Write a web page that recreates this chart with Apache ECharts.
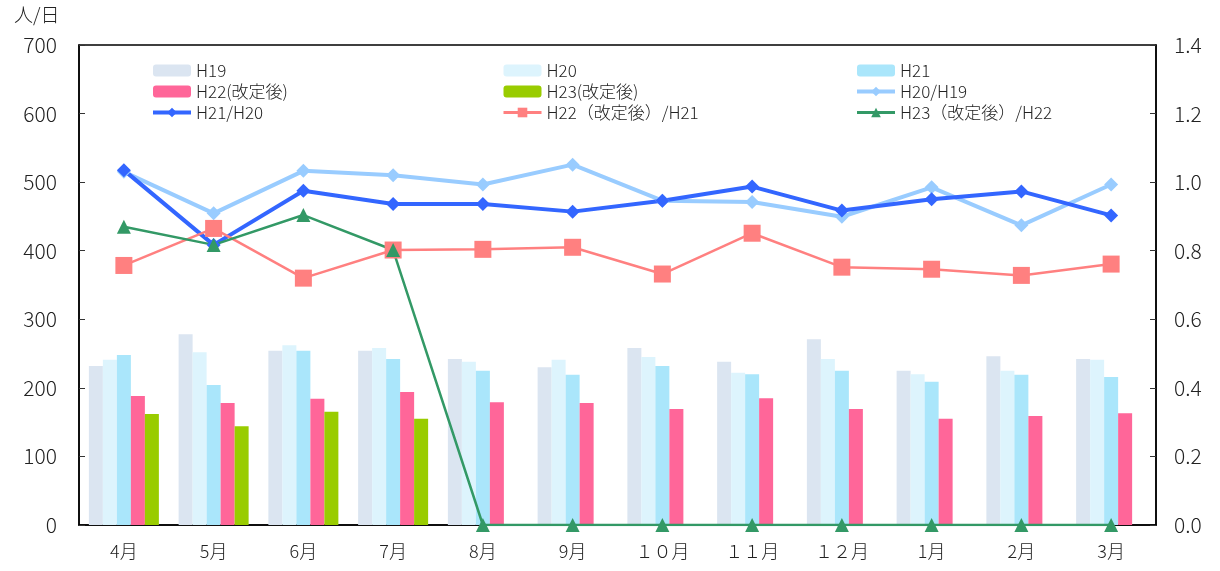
<!DOCTYPE html>
<html>
<head>
<meta charset="utf-8">
<script src="https://cdn.jsdelivr.net/npm/echarts@6/dist/echarts.min.js"></script>
<style>
html,body{margin:0;padding:0;background:#fff;}
#c{width:1220px;height:571px;}
</style>
</head>
<body>
<div id="c"></div>
<script>
const categories = ['4月','5月','6月','7月','8月','9月','１０月','１１月','１２月','1月','2月','3月'];
const h19 = [232,278,254,254,242,230,258,238,271,225,246,242];
const h20 = [241,252,262,258,238,241,245,222,242,220,225,241];
const h21 = [248,204,254,242,225,219,232,220,225,209,219,216];
const h22 = [188,178,184,194,179,178,169,185,169,155,159,163];
const h23 = [162,144,165,155,null,null,null,null,null,null,null,null];
const r20_19 = [1.030,0.909,1.033,1.020,0.993,1.051,0.946,0.942,0.899,0.985,0.874,0.993];
const r21_20 = [1.035,0.817,0.975,0.936,0.936,0.914,0.946,0.987,0.917,0.950,0.973,0.903];
const r22_21 = [0.757,0.865,0.720,0.802,0.804,0.810,0.732,0.851,0.752,0.746,0.728,0.761];
const r23_22 = [0.870,0.817,0.904,0.802,0,0,0,0,0,0,0,0];
const leftTicks = {min:0, max:700, interval:100};
const rightTicks = {min:0, max:1.4, interval:0.2};
const unitLabel = '人/日';

const FONT = '"Noto Sans CJK JP", "Noto Sans", sans-serif';
const chart = echarts.init(document.getElementById('c'));

function bar(name, data, color){
  return {name, type:'bar', data, yAxisIndex:0, barGap:'0%', barCategoryGap:'22%',
    itemStyle:{color}, emphasis:{disabled:true}};
}
function line(name, data, color, width, symbol, size){
  return {name, type:'line', data, yAxisIndex:1, symbol, symbolSize:size,
    lineStyle:{color, width}, itemStyle:{color}, z:5, emphasis:{disabled:true}};
}
const legendBase = {orient:'vertical', itemWidth:38, itemHeight:12, itemGap:4,
  textStyle:{fontFamily:FONT, fontSize:17, color:'#222', fontWeight:300}, selectedMode:false};
function li(name, w){ return w ? {name, lineStyle:{width:w}} : {name}; }

chart.setOption({
  animation:false,
  grid:{left:79, right:64, top:45, bottom:46, show:true, borderColor:'#000', borderWidth:1.5},
  legend:[
    Object.assign({left:146, top:57, data:[li('H19'),li('H22(改定後)'),li('H21/H20',4)]}, legendBase),
    Object.assign({left:497, top:57, data:[li('H20'),li('H23(改定後)'),li('H22（改定後）/H21',3)]}, legendBase),
    Object.assign({left:850, top:57, data:[li('H21'),li('H20/H19',4),li('H23（改定後）/H22',3)]}, legendBase)
  ],
  graphic:[{type:'text', left:14, top:5, style:{text:unitLabel, font:'300 19px ' + FONT, fill:'#222'}}],
  xAxis:{type:'category', data:categories,
    axisLine:{lineStyle:{color:'#000', width:1.5}},
    axisTick:{inside:true, length:6, lineStyle:{color:'#333'}},
    axisLabel:{fontFamily:FONT, fontSize:18, fontWeight:300, color:'#222', margin:17}},
  yAxis:[
    {type:'value', min:leftTicks.min, max:leftTicks.max, interval:leftTicks.interval,
     splitLine:{show:false},
     axisLine:{show:true, lineStyle:{color:'#000', width:1.5}},
     axisTick:{show:true, inside:true, length:6, lineStyle:{color:'#333'}},
     axisLabel:{fontFamily:FONT, fontSize:21, fontWeight:300, color:'#222', margin:22}},
    {type:'value', min:rightTicks.min, max:rightTicks.max, interval:rightTicks.interval,
     splitLine:{show:false},
     axisLine:{show:true, lineStyle:{color:'#000', width:1.5}},
     axisTick:{show:true, inside:true, length:6, lineStyle:{color:'#333'}},
     axisLabel:{fontFamily:FONT, fontSize:21, fontWeight:300, color:'#222', margin:18,
       formatter:v=>v.toFixed(1)}}
  ],
  series:[
    bar('H19', h19, '#dbe5f1'),
    bar('H20', h20, '#ddf4fd'),
    bar('H21', h21, '#aae6fb'),
    bar('H22(改定後)', h22, '#ff6699'),
    bar('H23(改定後)', h23, '#99cc00'),
    line('H20/H19', r20_19, '#99ccff', 4, 'diamond', 14),
    line('H21/H20', r21_20, '#3366ff', 4, 'diamond', 14),
    line('H22（改定後）/H21', r22_21, '#ff8080', 2.5, 'rect', 17),
    line('H23（改定後）/H22', r23_22, '#339966', 2.5, 'triangle', 14)
  ]
});
</script>
</body>
</html>
